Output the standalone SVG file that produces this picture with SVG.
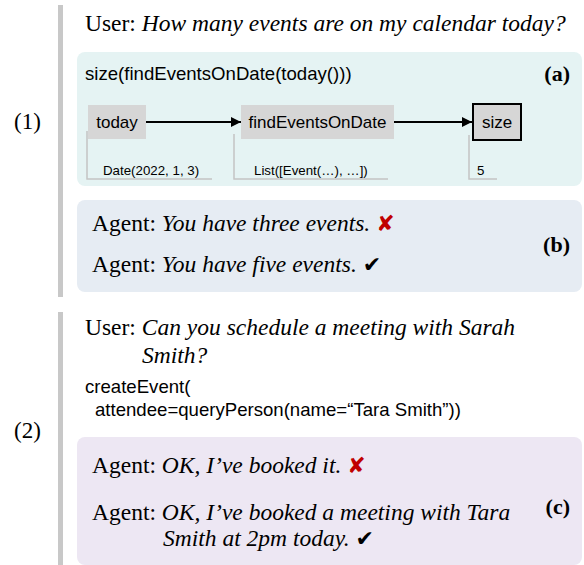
<svg xmlns="http://www.w3.org/2000/svg" width="584" height="565" viewBox="0 0 584 565">
<defs>
<marker id="ah" viewBox="0 0 10 10" refX="10" refY="5" markerWidth="10" markerHeight="10" markerUnits="userSpaceOnUse" orient="auto">
<path d="M0,0 L10,5 L0,10 z" fill="#000"/>
</marker>
<style>
.serif{font-family:"Liberation Serif","Times New Roman",serif;font-size:23.5px;fill:#000}
.it{font-style:italic}
.lab{font-family:"Liberation Serif","Times New Roman",serif;font-size:22px;font-weight:bold;fill:#000}
.num{font-family:"Liberation Serif","Times New Roman",serif;font-size:23px;fill:#000}
.code{font-family:"Liberation Sans",Arial,sans-serif;font-size:18.6px;fill:#000}
.node{font-family:"Liberation Sans",Arial,sans-serif;font-size:17px;fill:#000}
.sub{font-family:"Liberation Sans",Arial,sans-serif;font-size:13.3px;fill:#000}
.nbox{fill:#d6d6d6}
.bar{fill:#c8c8c8}
.tick{stroke:#c4c4c4;stroke-width:1.5;fill:none}
.edge{stroke:#000;stroke-width:1.8;fill:none;marker-end:url(#ah)}
.mark{font-family:"DejaVu Sans",sans-serif;font-size:22px}
</style>
</defs>

<rect class="bar" x="58" y="5" width="5" height="292"/>
<rect class="bar" x="58" y="312" width="5" height="253"/>
<text class="num" x="14" y="129">(1)</text>
<text class="num" x="14" y="438">(2)</text>

<text class="serif" x="85" y="31">User: <tspan class="it">How many events are on my calendar today?</tspan></text>

<g id="panel-a">
<rect x="77" y="52" width="505" height="134" rx="8" fill="#e5f3f3"/>
<text class="code" x="85" y="80">size(findEventsOnDate(today()))</text>
<text class="lab" x="570" y="81" text-anchor="end">(a)</text>
</g>

<g id="connectors">
<line class="edge" x1="146" y1="122" x2="241" y2="122"/>
<line class="edge" x1="394" y1="122" x2="472" y2="122"/>
<polyline class="tick" points="87,131 87,179 212,179"/>
<polyline class="tick" points="234,134 234,179 388,179"/>
<polyline class="tick" points="469,135 469,179 497,179"/>
</g>

<g id="node-today">
<rect class="nbox" x="88" y="105" width="58" height="34"/>
<text class="node" x="117" y="128" text-anchor="middle">today</text>
<text class="sub" x="103" y="175">Date(2022, 1, 3)</text>
</g>
<g id="node-findEventsOnDate">
<rect class="nbox" x="241" y="105" width="153" height="34"/>
<text class="node" x="317.5" y="128" text-anchor="middle">findEventsOnDate</text>
<text class="sub" x="254" y="175">List([Event(…), …])</text>
</g>
<g id="node-size">
<rect class="nbox" x="473" y="104" width="48" height="36" stroke="#000" stroke-width="2"/>
<text class="node" x="497" y="128" text-anchor="middle">size</text>
<text class="sub" x="477" y="175">5</text>
</g>

<g id="panel-b">
<rect x="77" y="200" width="505" height="92" rx="8" fill="#e6ecf3"/>
<text class="serif" x="92" y="231">Agent: <tspan class="it">You have three events.</tspan> <tspan class="mark" fill="#c00000">✘</tspan></text>
<text class="serif" x="92" y="272">Agent: <tspan class="it">You have five events.</tspan> <tspan class="mark">✔</tspan></text>
<text class="lab" x="570" y="252" text-anchor="end">(b)</text>
</g>

<text class="serif" x="85" y="335">User: <tspan class="it">Can you schedule a meeting with Sarah</tspan></text>
<text class="serif it" x="142" y="363">Smith?</text>
<text class="code" x="85" y="393">createEvent(</text>
<text class="code" x="95" y="416">attendee=queryPerson(name=“Tara Smith”))</text>

<g id="panel-c">
<rect x="77" y="437" width="505" height="128" rx="8" fill="#ede7f3"/>
<text class="serif" x="92" y="473">Agent: <tspan class="it">OK, I’ve booked it.</tspan> <tspan class="mark" fill="#c00000">✘</tspan></text>
<text class="serif" x="92" y="520">Agent: <tspan class="it">OK, I’ve booked a meeting with Tara</tspan></text>
<text class="serif" x="163" y="546"><tspan class="it">Smith at 2pm today.</tspan> <tspan class="mark">✔</tspan></text>
<text class="lab" x="570" y="514" text-anchor="end">(c)</text>
</g>
</svg>
